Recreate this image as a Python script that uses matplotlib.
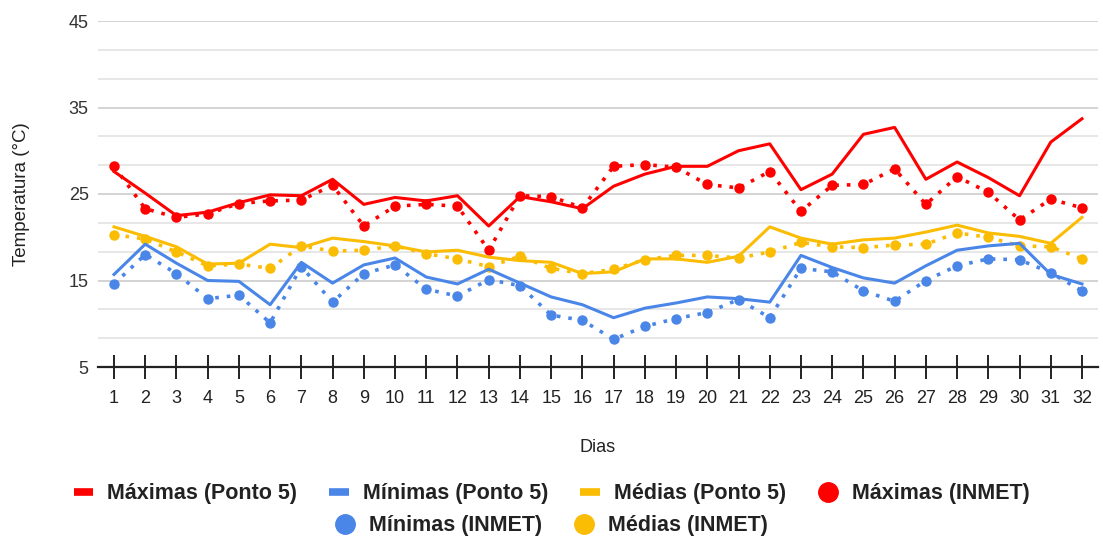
import matplotlib
matplotlib.use("Agg")
import matplotlib.pyplot as plt
from matplotlib.lines import Line2D
import numpy as np

dias = list(range(1, 33))

max_ponto5 = [27.6, 25.1, 22.5, 22.9, 24.0, 24.9, 24.8, 26.7, 23.8, 24.6, 24.2, 24.8, 21.3,
              24.7, 24.1, 23.3, 25.9, 27.3, 28.2, 28.2, 30.0, 30.8, 25.5, 27.3, 31.9,
              32.7, 26.7, 28.7, 26.9, 24.8, 31.0, 33.7]
min_ponto5 = [15.7, 19.2, 17.0, 15.0, 14.9, 12.2, 17.1, 14.7, 16.8, 17.6, 15.4, 14.6, 16.3,
              14.7, 13.1, 12.2, 10.7, 11.8, 12.4, 13.1, 12.9, 12.5, 17.9, 16.5, 15.3,
              14.7, 16.7, 18.5, 19.0, 19.3, 15.7, 14.6]
med_ponto5 = [21.2, 20.1, 18.9, 16.9, 17.0, 19.2, 18.8, 19.9, 19.5, 19.0, 18.3, 18.5, 17.7,
              17.3, 17.1, 15.8, 16.0, 17.5, 17.5, 17.1, 17.8, 21.2, 19.9, 19.2, 19.7,
              19.9, 20.6, 21.4, 20.5, 20.1, 19.3, 22.3]

max_inmet = [28.2, 23.3, 22.3, 22.7, 23.9, 24.2, 24.3, 26.0, 21.3, 23.6, 23.8, 23.6, 18.5,
             24.8, 24.7, 23.4, 28.2, 28.4, 28.1, 26.1, 25.7, 27.6, 23.0, 26.0, 26.1,
             27.9, 23.8, 27.0, 25.2, 22.0, 24.4, 23.4]
min_inmet = [14.6, 18.0, 15.8, 12.9, 13.3, 10.1, 16.6, 12.5, 15.8, 16.8, 14.0, 13.2, 15.1,
             14.4, 11.0, 10.4, 8.2, 9.7, 10.6, 11.3, 12.8, 10.7, 16.4, 16.0, 13.8,
             12.6, 15.0, 16.7, 17.5, 17.4, 15.9, 13.8]
med_inmet = [20.3, 19.8, 18.3, 16.7, 16.9, 16.4, 19.0, 18.4, 18.5, 19.0, 18.1, 17.5, 16.6,
             17.8, 16.4, 15.8, 16.3, 17.4, 17.9, 17.9, 17.6, 18.3, 19.4, 18.9, 18.8,
             19.1, 19.2, 20.5, 20.0, 19.0, 18.9, 17.5]

RED = "#ff0000"
BLUE = "#4a86e8"
YELLOW = "#fbbc04"

plt.rcParams['font.family'] = ['Liberation Sans', 'DejaVu Sans']

fig = plt.figure(figsize=(11.03, 5.39), dpi=100)
ax = fig.add_axes([98.4 / 1103, 1 - 367 / 539, (1097.6 - 98.4) / 1103, (367 - 21) / 539])

# grid: major every 10, minor every 10/3
for i in range(1, 13):
    v = 5 + i * 10 / 3
    ax.axhline(v, color="#cccccc" if i % 3 == 0 else "#e3e3e3", lw=1.2, zorder=0)

dot = (0, (1, 2.2))
ax.plot(dias, max_inmet, color=RED, lw=2.6, ls=dot, marker="o", ms=6.5, zorder=3)
ax.plot(dias, min_inmet, color=BLUE, lw=2.6, ls=dot, marker="o", ms=6.5, zorder=3)
ax.plot(dias, med_inmet, color=YELLOW, lw=2.6, ls=dot, marker="o", ms=6.5, zorder=3)
ax.plot(dias, max_ponto5, color=RED, lw=2.2, zorder=4)
ax.plot(dias, min_ponto5, color=BLUE, lw=2.2, zorder=4)
ax.plot(dias, med_ponto5, color=YELLOW, lw=2.2, zorder=4)

ax.set_xlim(0.5, 32.5)
ax.set_ylim(5, 45)
ax.set_xticks(dias)
ax.set_yticks([5, 15, 25, 35, 45])
for s in ["top", "right", "left"]:
    ax.spines[s].set_visible(False)
ax.spines["bottom"].set_color("#222222")
ax.spines["bottom"].set_linewidth(1.6)
ax.spines["bottom"].set_zorder(5)
ax.tick_params(axis="x", direction="inout", length=17, width=1.4, color="#222222",
               labelsize=13, pad=8, labelcolor="#222222")
ax.tick_params(axis="y", length=0, labelsize=13, pad=7, labelcolor="#333333")
ax.set_xlabel("Dias", fontsize=13, labelpad=23, color="#222222")
ax.set_ylabel("Temperatura (°C)", fontsize=13.5, labelpad=28, color="#222222")

h1 = [Line2D([], [], color=RED, lw=5.5, solid_capstyle="butt"),
      Line2D([], [], color=BLUE, lw=5.5, solid_capstyle="butt"),
      Line2D([], [], color=YELLOW, lw=5.5, solid_capstyle="butt"),
      Line2D([], [], color=RED, ls="none", marker="o", ms=14)]
l1 = ["Máximas (Ponto 5)", "Mínimas (Ponto 5)", "Médias (Ponto 5)", "Máximas (INMET)"]
h2 = [Line2D([], [], color=BLUE, ls="none", marker="o", ms=14),
      Line2D([], [], color=YELLOW, ls="none", marker="o", ms=14)]
l2 = ["Mínimas (INMET)", "Médias (INMET)"]

kw = dict(frameon=False, handlelength=0.9, handletextpad=0.65, columnspacing=1.5,
          prop={"weight": "bold", "size": 15.5})
leg1 = fig.legend(h1, l1, loc="center", bbox_to_anchor=(0.5, 1 - 494 / 539), ncol=4, **kw)
leg2 = fig.legend(h2, l2, loc="center", bbox_to_anchor=(0.5, 1 - 526 / 539), ncol=2, **kw)
for leg in (leg1, leg2):
    for t in leg.get_texts():
        t.set_color("#222222")

fig.savefig("out.png", dpi=100)
